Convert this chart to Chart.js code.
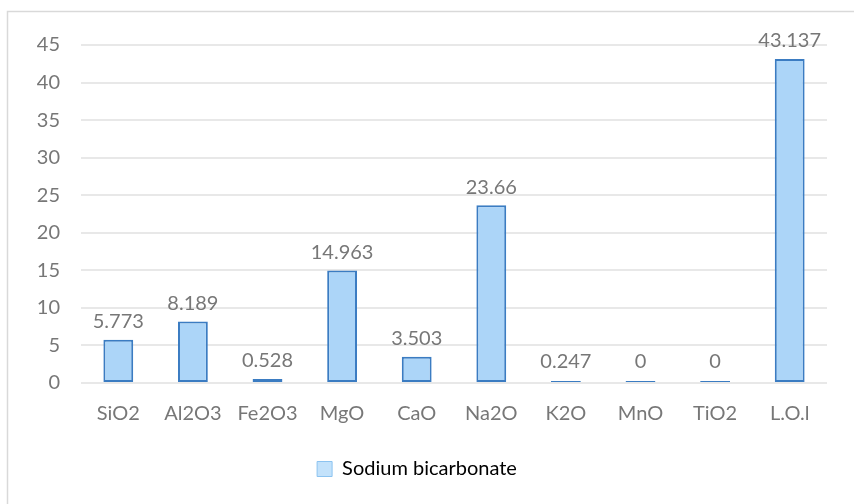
<!DOCTYPE html>
<html>
<head>
<meta charset="utf-8">
<script src="https://cdn.jsdelivr.net/npm/chart.js@4.4.1/dist/chart.umd.min.js"></script>
<style>
  html, body { margin: 0; padding: 0; background: #ffffff; }
  #wrap { width: 854px; height: 504px; position: relative; }
</style>
</head>
<body>
<div id="wrap"><canvas id="chart" width="854" height="504"></canvas></div>
<script>
// Oxide composition (%)
const categories = ['SiO2', 'Al2O3', 'Fe2O3', 'MgO', 'CaO', 'Na2O', 'K2O', 'MnO', 'TiO2', 'L.O.l'];
const sodiumBicarbonate = [5.773, 8.189, 0.528, 14.963, 3.503, 23.66, 0.247, 0, 0, 43.137];
const seriesName = 'Sodium bicarbonate';
const yTicks = [0, 5, 10, 15, 20, 25, 30, 35, 40, 45];

const FONT = 'Lato, Calibri, Carlito, "Open Sans", sans-serif';
const TEXT = '#777777';
const SIZE = 20;

// Frame around the chart
const framePlugin = {
  id: 'frame',
  beforeDraw(chart) {
    const ctx = chart.ctx;
    ctx.save();
    ctx.strokeStyle = '#d9d9d9';
    ctx.lineWidth = 1.5;
    ctx.strokeRect(7.5, 11.5, 860, 520);
    ctx.restore();
  }
};

// Value labels above each bar
const valueLabels = {
  id: 'valueLabels',
  afterDatasetsDraw(chart) {
    const ctx = chart.ctx;
    const meta = chart.getDatasetMeta(0);
    const data = chart.data.datasets[0].data;
    ctx.save();
    ctx.font = SIZE + 'px ' + FONT;
    ctx.fillStyle = TEXT;
    ctx.textAlign = 'center';
    ctx.textBaseline = 'bottom';
    meta.data.forEach((bar, i) => {
      ctx.fillText(String(data[i]), bar.x, Math.min(bar.y, bar.base - 2) - 8);
    });
    ctx.restore();
  }
};

new Chart(document.getElementById('chart'), {
  type: 'bar',
  data: {
    labels: categories,
    datasets: [{
      label: seriesName,
      data: sodiumBicarbonate,
      backgroundColor: '#acd5f8',
      borderColor: '#3b7cc2',
      borderWidth: 2,
      borderSkipped: false,
      minBarLength: 2,
      barPercentage: 0.8,
      categoryPercentage: 0.5
    }]
  },
  options: {
    responsive: false,
    animation: false,
    devicePixelRatio: 1,
    layout: { padding: { left: 7, right: 27, top: 45, bottom: 15 } },
    plugins: {
      legend: {
        position: 'bottom',
        labels: {
          font: { family: FONT, size: SIZE },
          color: TEXT,
          boxWidth: 15,
          boxHeight: 15,
          padding: 10,
          generateLabels() {
            return [{
              text: seriesName,
              fillStyle: '#c3e2fb',
              strokeStyle: '#8cc3f0',
              lineWidth: 1,
              datasetIndex: 0
            }];
          }
        }
      },
      tooltip: { enabled: false }
    },
    scales: {
      x: {
        grid: { display: false, drawTicks: false },
        border: { display: false },
        ticks: { font: { family: FONT, size: SIZE }, color: TEXT, padding: 19, maxRotation: 0 },
        afterFit(scale) { scale.height = 66; }
      },
      y: {
        min: 0,
        max: 45,
        afterBuildTicks(scale) { scale.ticks = yTicks.map(v => ({ value: v })); },
        grid: { color: '#e8e8e8', lineWidth: 2, drawTicks: false },
        border: { display: false },
        ticks: { font: { family: FONT, size: SIZE }, color: TEXT, padding: 21 },
        afterFit(scale) { scale.width = 74; }
      }
    }
  },
  plugins: [framePlugin, valueLabels]
});
</script>
</body>
</html>
